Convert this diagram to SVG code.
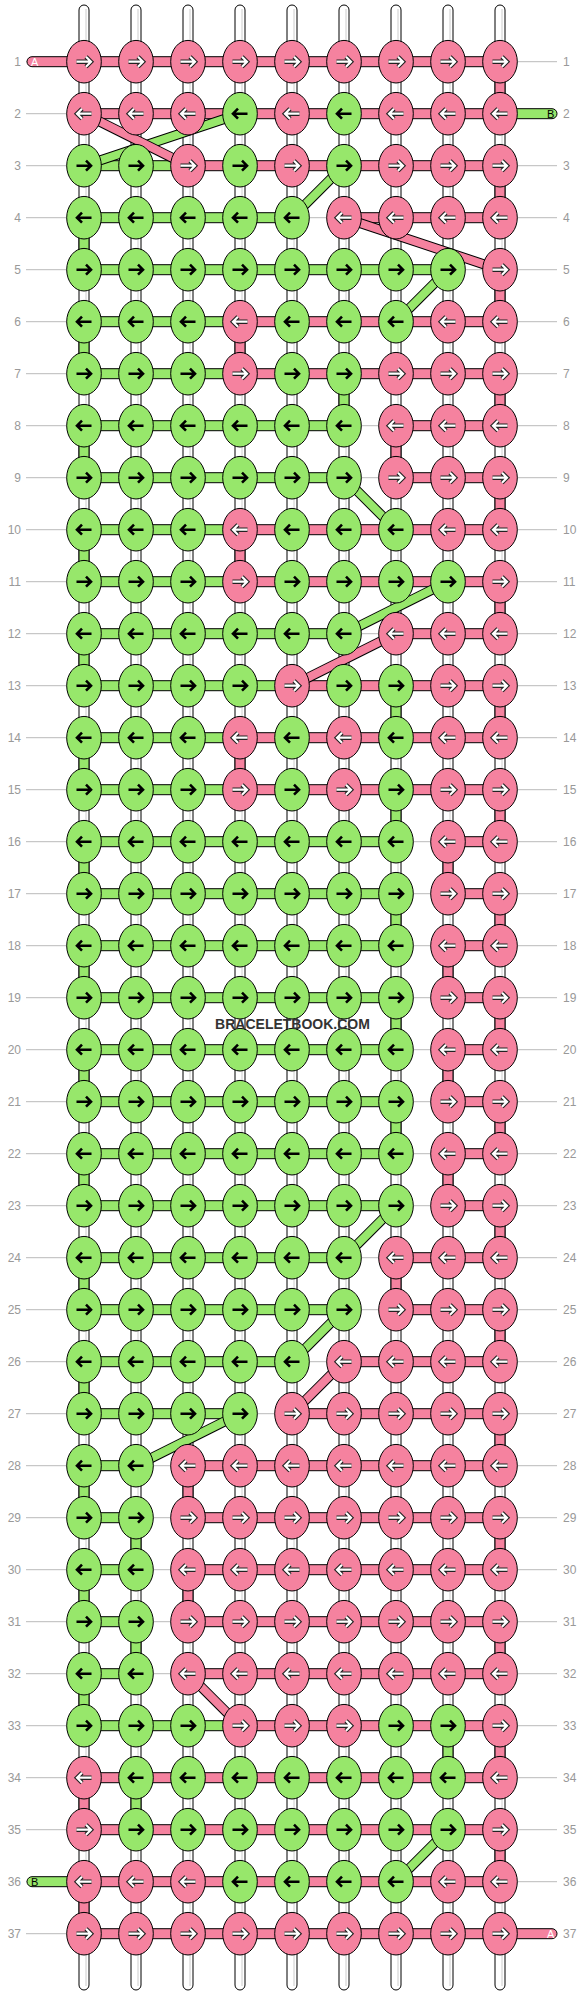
<svg xmlns="http://www.w3.org/2000/svg" width="584" height="1996" viewBox="0 0 584 1996">
<style>
.bg{fill:#fff}
.gl{stroke:#bbb;stroke-width:1}
.lb{font-family:"Liberation Sans",Arial,sans-serif;font-size:12px;fill:#999}
.w{fill:#fff;stroke:#000;stroke-width:1}
.wl{stroke:#ccc;stroke-width:1}
.P{fill:#f5829f;stroke:#000;stroke-width:1}
.G{fill:#97e76b;stroke:#000;stroke-width:1}
.dk{stroke:#000;stroke-width:10;fill:none}
.dP{stroke:#f5829f;stroke-width:8;fill:none}
.dG{stroke:#97e76b;stroke-width:8;fill:none}
.ao{fill:none;stroke:#222;stroke-width:4.4;stroke-linejoin:miter}
.aw{fill:none;stroke:#fff;stroke-width:2.2}
.ab{fill:none;stroke:#000;stroke-width:2.6}
.st{font-family:"Liberation Sans",Arial,sans-serif;font-size:11px}
.wm{font-family:"Liberation Sans",Arial,sans-serif;font-size:14px;font-weight:bold;fill:#333;text-anchor:middle}
</style>
<defs>
<g id="pR"><ellipse rx="17.3" ry="21.3" class="P"/><path d="M-7.5,0H6.5M2,-5L7,0L2,5" class="ao"/><path d="M-7.5,0H6.5M2,-5L7,0L2,5" class="aw"/></g>
<g id="pL"><ellipse rx="17.3" ry="21.3" class="P"/><path d="M7.5,0H-6.5M-2,-5L-7,0L-2,5" class="ao"/><path d="M7.5,0H-6.5M-2,-5L-7,0L-2,5" class="aw"/></g>
<g id="gR"><ellipse rx="17.3" ry="21.3" class="G"/><path d="M-7.5,0H6.5M2,-5L7,0L2,5" class="ab"/></g>
<g id="gL"><ellipse rx="17.3" ry="21.3" class="G"/><path d="M7.5,0H-6.5M-2,-5L-7,0L-2,5" class="ab"/></g>
</defs>
<rect class="bg" x="0" y="0" width="584" height="1996"/>
<g id="guides">
<line class="gl" x1="26" y1="61.7" x2="557" y2="61.7"/><line class="gl" x1="26" y1="113.7" x2="557" y2="113.7"/><line class="gl" x1="26" y1="165.7" x2="557" y2="165.7"/><line class="gl" x1="26" y1="217.7" x2="557" y2="217.7"/><line class="gl" x1="26" y1="269.7" x2="557" y2="269.7"/><line class="gl" x1="26" y1="321.7" x2="557" y2="321.7"/><line class="gl" x1="26" y1="373.7" x2="557" y2="373.7"/><line class="gl" x1="26" y1="425.7" x2="557" y2="425.7"/><line class="gl" x1="26" y1="477.7" x2="557" y2="477.7"/><line class="gl" x1="26" y1="529.7" x2="557" y2="529.7"/><line class="gl" x1="26" y1="581.7" x2="557" y2="581.7"/><line class="gl" x1="26" y1="633.7" x2="557" y2="633.7"/><line class="gl" x1="26" y1="685.7" x2="557" y2="685.7"/><line class="gl" x1="26" y1="737.7" x2="557" y2="737.7"/><line class="gl" x1="26" y1="789.7" x2="557" y2="789.7"/><line class="gl" x1="26" y1="841.7" x2="557" y2="841.7"/><line class="gl" x1="26" y1="893.7" x2="557" y2="893.7"/><line class="gl" x1="26" y1="945.7" x2="557" y2="945.7"/><line class="gl" x1="26" y1="997.7" x2="557" y2="997.7"/><line class="gl" x1="26" y1="1049.7" x2="557" y2="1049.7"/><line class="gl" x1="26" y1="1101.7" x2="557" y2="1101.7"/><line class="gl" x1="26" y1="1153.7" x2="557" y2="1153.7"/><line class="gl" x1="26" y1="1205.7" x2="557" y2="1205.7"/><line class="gl" x1="26" y1="1257.7" x2="557" y2="1257.7"/><line class="gl" x1="26" y1="1309.7" x2="557" y2="1309.7"/><line class="gl" x1="26" y1="1361.7" x2="557" y2="1361.7"/><line class="gl" x1="26" y1="1413.7" x2="557" y2="1413.7"/><line class="gl" x1="26" y1="1465.7" x2="557" y2="1465.7"/><line class="gl" x1="26" y1="1517.7" x2="557" y2="1517.7"/><line class="gl" x1="26" y1="1569.7" x2="557" y2="1569.7"/><line class="gl" x1="26" y1="1621.7" x2="557" y2="1621.7"/><line class="gl" x1="26" y1="1673.7" x2="557" y2="1673.7"/><line class="gl" x1="26" y1="1725.7" x2="557" y2="1725.7"/><line class="gl" x1="26" y1="1777.7" x2="557" y2="1777.7"/><line class="gl" x1="26" y1="1829.7" x2="557" y2="1829.7"/><line class="gl" x1="26" y1="1881.7" x2="557" y2="1881.7"/><line class="gl" x1="26" y1="1933.7" x2="557" y2="1933.7"/>
</g>
<g id="labels-left" class="lb" text-anchor="end">
<text x="21" y="66">1</text><text x="21" y="118">2</text><text x="21" y="170">3</text><text x="21" y="222">4</text><text x="21" y="274">5</text><text x="21" y="326">6</text><text x="21" y="378">7</text><text x="21" y="430">8</text><text x="21" y="482">9</text><text x="21" y="534">10</text><text x="21" y="586">11</text><text x="21" y="638">12</text><text x="21" y="690">13</text><text x="21" y="742">14</text><text x="21" y="794">15</text><text x="21" y="846">16</text><text x="21" y="898">17</text><text x="21" y="950">18</text><text x="21" y="1002">19</text><text x="21" y="1054">20</text><text x="21" y="1106">21</text><text x="21" y="1158">22</text><text x="21" y="1210">23</text><text x="21" y="1262">24</text><text x="21" y="1314">25</text><text x="21" y="1366">26</text><text x="21" y="1418">27</text><text x="21" y="1470">28</text><text x="21" y="1522">29</text><text x="21" y="1574">30</text><text x="21" y="1626">31</text><text x="21" y="1678">32</text><text x="21" y="1730">33</text><text x="21" y="1782">34</text><text x="21" y="1834">35</text><text x="21" y="1886">36</text><text x="21" y="1938">37</text>
</g>
<g id="labels-right" class="lb">
<text x="563" y="66">1</text><text x="563" y="118">2</text><text x="563" y="170">3</text><text x="563" y="222">4</text><text x="563" y="274">5</text><text x="563" y="326">6</text><text x="563" y="378">7</text><text x="563" y="430">8</text><text x="563" y="482">9</text><text x="563" y="534">10</text><text x="563" y="586">11</text><text x="563" y="638">12</text><text x="563" y="690">13</text><text x="563" y="742">14</text><text x="563" y="794">15</text><text x="563" y="846">16</text><text x="563" y="898">17</text><text x="563" y="950">18</text><text x="563" y="1002">19</text><text x="563" y="1054">20</text><text x="563" y="1106">21</text><text x="563" y="1158">22</text><text x="563" y="1210">23</text><text x="563" y="1262">24</text><text x="563" y="1314">25</text><text x="563" y="1366">26</text><text x="563" y="1418">27</text><text x="563" y="1470">28</text><text x="563" y="1522">29</text><text x="563" y="1574">30</text><text x="563" y="1626">31</text><text x="563" y="1678">32</text><text x="563" y="1730">33</text><text x="563" y="1782">34</text><text x="563" y="1834">35</text><text x="563" y="1886">36</text><text x="563" y="1938">37</text>
</g>
<g id="connectors">
<g id="warps">
<rect class="w" x="79" y="5" width="10" height="1985" rx="5"/><line class="wl" x1="86" y1="9" x2="86" y2="1986"/>
<rect class="w" x="131" y="5" width="10" height="1985" rx="5"/><line class="wl" x1="138" y1="9" x2="138" y2="1986"/>
<rect class="w" x="183" y="5" width="10" height="1985" rx="5"/><line class="wl" x1="190" y1="9" x2="190" y2="1986"/>
<rect class="w" x="235" y="5" width="10" height="1985" rx="5"/><line class="wl" x1="242" y1="9" x2="242" y2="1986"/>
<rect class="w" x="287" y="5" width="10" height="1985" rx="5"/><line class="wl" x1="294" y1="9" x2="294" y2="1986"/>
<rect class="w" x="339" y="5" width="10" height="1985" rx="5"/><line class="wl" x1="346" y1="9" x2="346" y2="1986"/>
<rect class="w" x="391" y="5" width="10" height="1985" rx="5"/><line class="wl" x1="398" y1="9" x2="398" y2="1986"/>
<rect class="w" x="443" y="5" width="10" height="1985" rx="5"/><line class="wl" x1="450" y1="9" x2="450" y2="1986"/>
<rect class="w" x="495" y="5" width="10" height="1985" rx="5"/><line class="wl" x1="502" y1="9" x2="502" y2="1986"/>
</g>
<g id="turns">
<rect class="P" x="495" y="61.7" width="10" height="52"/>
<rect class="P" x="495" y="165.7" width="10" height="52"/>
<rect class="G" x="79" y="217.7" width="10" height="52"/>
<rect class="P" x="495" y="269.7" width="10" height="52"/>
<rect class="G" x="79" y="321.7" width="10" height="52"/><rect class="P" x="235" y="321.7" width="10" height="52"/>
<rect class="G" x="339" y="373.7" width="10" height="52"/><rect class="P" x="495" y="373.7" width="10" height="52"/>
<rect class="G" x="79" y="425.7" width="10" height="52"/><rect class="P" x="391" y="425.7" width="10" height="52"/>
<rect class="P" x="495" y="477.7" width="10" height="52"/>
<rect class="G" x="79" y="529.7" width="10" height="52"/><rect class="P" x="235" y="529.7" width="10" height="52"/>
<rect class="P" x="495" y="581.7" width="10" height="52"/>
<rect class="G" x="79" y="633.7" width="10" height="52"/>
<rect class="G" x="391" y="685.7" width="10" height="52"/><rect class="P" x="495" y="685.7" width="10" height="52"/>
<rect class="G" x="79" y="737.7" width="10" height="52"/><rect class="P" x="235" y="737.7" width="10" height="52"/>
<rect class="G" x="391" y="789.7" width="10" height="52"/><rect class="P" x="495" y="789.7" width="10" height="52"/>
<rect class="G" x="79" y="841.7" width="10" height="52"/><rect class="P" x="443" y="841.7" width="10" height="52"/>
<rect class="G" x="391" y="893.7" width="10" height="52"/><rect class="P" x="495" y="893.7" width="10" height="52"/>
<rect class="G" x="79" y="945.7" width="10" height="52"/><rect class="P" x="443" y="945.7" width="10" height="52"/>
<rect class="G" x="391" y="997.7" width="10" height="52"/><rect class="P" x="495" y="997.7" width="10" height="52"/>
<rect class="G" x="79" y="1049.7" width="10" height="52"/><rect class="P" x="443" y="1049.7" width="10" height="52"/>
<rect class="G" x="391" y="1101.7" width="10" height="52"/><rect class="P" x="495" y="1101.7" width="10" height="52"/>
<rect class="G" x="79" y="1153.7" width="10" height="52"/><rect class="P" x="443" y="1153.7" width="10" height="52"/>
<rect class="P" x="495" y="1205.7" width="10" height="52"/>
<rect class="G" x="79" y="1257.7" width="10" height="52"/><rect class="P" x="391" y="1257.7" width="10" height="52"/>
<rect class="P" x="495" y="1309.7" width="10" height="52"/>
<rect class="G" x="79" y="1361.7" width="10" height="52"/>
<rect class="P" x="495" y="1413.7" width="10" height="52"/>
<rect class="G" x="79" y="1465.7" width="10" height="52"/><rect class="P" x="183" y="1465.7" width="10" height="52"/>
<rect class="G" x="131" y="1517.7" width="10" height="52"/><rect class="P" x="495" y="1517.7" width="10" height="52"/>
<rect class="G" x="79" y="1569.7" width="10" height="52"/><rect class="P" x="183" y="1569.7" width="10" height="52"/>
<rect class="G" x="131" y="1621.7" width="10" height="52"/><rect class="P" x="495" y="1621.7" width="10" height="52"/>
<rect class="G" x="79" y="1673.7" width="10" height="52"/>
<rect class="G" x="443" y="1725.7" width="10" height="52"/><rect class="P" x="495" y="1725.7" width="10" height="52"/>
<rect class="P" x="79" y="1777.7" width="10" height="52"/><rect class="G" x="131" y="1777.7" width="10" height="52"/>
<rect class="P" x="495" y="1829.7" width="10" height="52"/>
<rect class="P" x="79" y="1881.7" width="10" height="52"/>
</g>
<g id="rows">
<rect class="P" x="84" y="56.7" width="416" height="10"/>
<rect class="P" x="84" y="108.7" width="416" height="10"/>
<rect class="G" x="84" y="160.7" width="104" height="10"/><rect class="P" x="188" y="160.7" width="312" height="10"/>
<rect class="G" x="84" y="212.7" width="208" height="10"/><rect class="P" x="344" y="212.7" width="156" height="10"/>
<rect class="G" x="84" y="264.7" width="364" height="10"/>
<rect class="G" x="84" y="316.7" width="156" height="10"/><rect class="P" x="240" y="316.7" width="260" height="10"/>
<rect class="G" x="84" y="368.7" width="156" height="10"/><rect class="P" x="240" y="368.7" width="260" height="10"/>
<rect class="G" x="84" y="420.7" width="260" height="10"/><rect class="P" x="396" y="420.7" width="104" height="10"/>
<rect class="G" x="84" y="472.7" width="260" height="10"/><rect class="P" x="396" y="472.7" width="104" height="10"/>
<rect class="G" x="84" y="524.7" width="156" height="10"/><rect class="P" x="240" y="524.7" width="260" height="10"/>
<rect class="G" x="84" y="576.7" width="156" height="10"/><rect class="P" x="240" y="576.7" width="260" height="10"/>
<rect class="G" x="84" y="628.7" width="260" height="10"/><rect class="P" x="396" y="628.7" width="104" height="10"/>
<rect class="G" x="84" y="680.7" width="208" height="10"/><rect class="P" x="292" y="680.7" width="208" height="10"/>
<rect class="G" x="84" y="732.7" width="156" height="10"/><rect class="P" x="240" y="732.7" width="260" height="10"/>
<rect class="G" x="84" y="784.7" width="156" height="10"/><rect class="P" x="240" y="784.7" width="260" height="10"/>
<rect class="G" x="84" y="836.7" width="312" height="10"/><rect class="P" x="448" y="836.7" width="52" height="10"/>
<rect class="G" x="84" y="888.7" width="312" height="10"/><rect class="P" x="448" y="888.7" width="52" height="10"/>
<rect class="G" x="84" y="940.7" width="312" height="10"/><rect class="P" x="448" y="940.7" width="52" height="10"/>
<rect class="G" x="84" y="992.7" width="312" height="10"/><rect class="P" x="448" y="992.7" width="52" height="10"/>
<rect class="G" x="84" y="1044.7" width="312" height="10"/><rect class="P" x="448" y="1044.7" width="52" height="10"/>
<rect class="G" x="84" y="1096.7" width="312" height="10"/><rect class="P" x="448" y="1096.7" width="52" height="10"/>
<rect class="G" x="84" y="1148.7" width="312" height="10"/><rect class="P" x="448" y="1148.7" width="52" height="10"/>
<rect class="G" x="84" y="1200.7" width="312" height="10"/><rect class="P" x="448" y="1200.7" width="52" height="10"/>
<rect class="G" x="84" y="1252.7" width="260" height="10"/><rect class="P" x="396" y="1252.7" width="104" height="10"/>
<rect class="G" x="84" y="1304.7" width="260" height="10"/><rect class="P" x="396" y="1304.7" width="104" height="10"/>
<rect class="G" x="84" y="1356.7" width="208" height="10"/><rect class="P" x="344" y="1356.7" width="156" height="10"/>
<rect class="G" x="84" y="1408.7" width="156" height="10"/><rect class="P" x="292" y="1408.7" width="208" height="10"/>
<rect class="G" x="84" y="1460.7" width="52" height="10"/><rect class="P" x="188" y="1460.7" width="312" height="10"/>
<rect class="G" x="84" y="1512.7" width="52" height="10"/><rect class="P" x="188" y="1512.7" width="312" height="10"/>
<rect class="G" x="84" y="1564.7" width="52" height="10"/><rect class="P" x="188" y="1564.7" width="312" height="10"/>
<rect class="G" x="84" y="1616.7" width="52" height="10"/><rect class="P" x="188" y="1616.7" width="312" height="10"/>
<rect class="G" x="84" y="1668.7" width="52" height="10"/><rect class="P" x="188" y="1668.7" width="312" height="10"/>
<rect class="G" x="84" y="1720.7" width="156" height="10"/><rect class="P" x="240" y="1720.7" width="260" height="10"/>
<rect class="P" x="84" y="1772.7" width="416" height="10"/>
<rect class="P" x="84" y="1824.7" width="416" height="10"/>
<rect class="P" x="84" y="1876.7" width="416" height="10"/>
<rect class="P" x="84" y="1928.7" width="416" height="10"/>
</g>
<g id="ends">
<rect class="P" x="27" y="56.7" width="62" height="10" rx="5"/><text class="st" x="31" y="66" fill="#fff">A</text>
<rect class="G" x="495" y="108.7" width="62" height="10" rx="5"/><text class="st" x="547" y="118" fill="#000">B</text>
<rect class="G" x="27" y="1876.7" width="62" height="10" rx="5"/><text class="st" x="31" y="1886" fill="#000">B</text>
<rect class="P" x="495" y="1928.7" width="62" height="10" rx="5"/><text class="st" x="547" y="1938" fill="#fff">A</text>
</g>
<g id="crossings">
<line class="dk" x1="240" y1="113.7" x2="84" y2="165.7"/><line class="dG" x1="240" y1="113.7" x2="84" y2="165.7"/>
<line class="dk" x1="84" y1="113.7" x2="188" y2="165.7"/><line class="dP" x1="84" y1="113.7" x2="188" y2="165.7"/>
<line class="dk" x1="344" y1="165.7" x2="292" y2="217.7"/><line class="dG" x1="344" y1="165.7" x2="292" y2="217.7"/>
<line class="dk" x1="344" y1="217.7" x2="500" y2="269.7"/><line class="dP" x1="344" y1="217.7" x2="500" y2="269.7"/>
<line class="dk" x1="448" y1="269.7" x2="396" y2="321.7"/><line class="dG" x1="448" y1="269.7" x2="396" y2="321.7"/>
<line class="dk" x1="344" y1="477.7" x2="396" y2="529.7"/><line class="dG" x1="344" y1="477.7" x2="396" y2="529.7"/>
<line class="dk" x1="448" y1="581.7" x2="344" y2="633.7"/><line class="dG" x1="448" y1="581.7" x2="344" y2="633.7"/>
<line class="dk" x1="396" y1="633.7" x2="292" y2="685.7"/><line class="dP" x1="396" y1="633.7" x2="292" y2="685.7"/>
<line class="dk" x1="396" y1="1205.7" x2="344" y2="1257.7"/><line class="dG" x1="396" y1="1205.7" x2="344" y2="1257.7"/>
<line class="dk" x1="344" y1="1309.7" x2="292" y2="1361.7"/><line class="dG" x1="344" y1="1309.7" x2="292" y2="1361.7"/>
<line class="dk" x1="344" y1="1361.7" x2="292" y2="1413.7"/><line class="dP" x1="344" y1="1361.7" x2="292" y2="1413.7"/>
<line class="dk" x1="240" y1="1413.7" x2="136" y2="1465.7"/><line class="dG" x1="240" y1="1413.7" x2="136" y2="1465.7"/>
<line class="dk" x1="188" y1="1673.7" x2="240" y2="1725.7"/><line class="dP" x1="188" y1="1673.7" x2="240" y2="1725.7"/>
<line class="dk" x1="448" y1="1829.7" x2="396" y2="1881.7"/><line class="dG" x1="448" y1="1829.7" x2="396" y2="1881.7"/>
</g>
</g>
<g id="knots">
<g id="k1-1"><use href="#pR" x="84" y="61.7"/></g><g id="k1-2"><use href="#pR" x="136" y="61.7"/></g><g id="k1-3"><use href="#pR" x="188" y="61.7"/></g><g id="k1-4"><use href="#pR" x="240" y="61.7"/></g><g id="k1-5"><use href="#pR" x="292" y="61.7"/></g><g id="k1-6"><use href="#pR" x="344" y="61.7"/></g><g id="k1-7"><use href="#pR" x="396" y="61.7"/></g><g id="k1-8"><use href="#pR" x="448" y="61.7"/></g><g id="k1-9"><use href="#pR" x="500" y="61.7"/></g>
<g id="k2-1"><use href="#pL" x="84" y="113.7"/></g><g id="k2-2"><use href="#pL" x="136" y="113.7"/></g><g id="k2-3"><use href="#pL" x="188" y="113.7"/></g><g id="k2-4"><use href="#gL" x="240" y="113.7"/></g><g id="k2-5"><use href="#pL" x="292" y="113.7"/></g><g id="k2-6"><use href="#gL" x="344" y="113.7"/></g><g id="k2-7"><use href="#pL" x="396" y="113.7"/></g><g id="k2-8"><use href="#pL" x="448" y="113.7"/></g><g id="k2-9"><use href="#pL" x="500" y="113.7"/></g>
<g id="k3-1"><use href="#gR" x="84" y="165.7"/></g><g id="k3-2"><use href="#gR" x="136" y="165.7"/></g><g id="k3-3"><use href="#pR" x="188" y="165.7"/></g><g id="k3-4"><use href="#gR" x="240" y="165.7"/></g><g id="k3-5"><use href="#pR" x="292" y="165.7"/></g><g id="k3-6"><use href="#gR" x="344" y="165.7"/></g><g id="k3-7"><use href="#pR" x="396" y="165.7"/></g><g id="k3-8"><use href="#pR" x="448" y="165.7"/></g><g id="k3-9"><use href="#pR" x="500" y="165.7"/></g>
<g id="k4-1"><use href="#gL" x="84" y="217.7"/></g><g id="k4-2"><use href="#gL" x="136" y="217.7"/></g><g id="k4-3"><use href="#gL" x="188" y="217.7"/></g><g id="k4-4"><use href="#gL" x="240" y="217.7"/></g><g id="k4-5"><use href="#gL" x="292" y="217.7"/></g><g id="k4-6"><use href="#pL" x="344" y="217.7"/></g><g id="k4-7"><use href="#pL" x="396" y="217.7"/></g><g id="k4-8"><use href="#pL" x="448" y="217.7"/></g><g id="k4-9"><use href="#pL" x="500" y="217.7"/></g>
<g id="k5-1"><use href="#gR" x="84" y="269.7"/></g><g id="k5-2"><use href="#gR" x="136" y="269.7"/></g><g id="k5-3"><use href="#gR" x="188" y="269.7"/></g><g id="k5-4"><use href="#gR" x="240" y="269.7"/></g><g id="k5-5"><use href="#gR" x="292" y="269.7"/></g><g id="k5-6"><use href="#gR" x="344" y="269.7"/></g><g id="k5-7"><use href="#gR" x="396" y="269.7"/></g><g id="k5-8"><use href="#gR" x="448" y="269.7"/></g><g id="k5-9"><use href="#pR" x="500" y="269.7"/></g>
<g id="k6-1"><use href="#gL" x="84" y="321.7"/></g><g id="k6-2"><use href="#gL" x="136" y="321.7"/></g><g id="k6-3"><use href="#gL" x="188" y="321.7"/></g><g id="k6-4"><use href="#pL" x="240" y="321.7"/></g><g id="k6-5"><use href="#gL" x="292" y="321.7"/></g><g id="k6-6"><use href="#gL" x="344" y="321.7"/></g><g id="k6-7"><use href="#gL" x="396" y="321.7"/></g><g id="k6-8"><use href="#pL" x="448" y="321.7"/></g><g id="k6-9"><use href="#pL" x="500" y="321.7"/></g>
<g id="k7-1"><use href="#gR" x="84" y="373.7"/></g><g id="k7-2"><use href="#gR" x="136" y="373.7"/></g><g id="k7-3"><use href="#gR" x="188" y="373.7"/></g><g id="k7-4"><use href="#pR" x="240" y="373.7"/></g><g id="k7-5"><use href="#gR" x="292" y="373.7"/></g><g id="k7-6"><use href="#gR" x="344" y="373.7"/></g><g id="k7-7"><use href="#pR" x="396" y="373.7"/></g><g id="k7-8"><use href="#pR" x="448" y="373.7"/></g><g id="k7-9"><use href="#pR" x="500" y="373.7"/></g>
<g id="k8-1"><use href="#gL" x="84" y="425.7"/></g><g id="k8-2"><use href="#gL" x="136" y="425.7"/></g><g id="k8-3"><use href="#gL" x="188" y="425.7"/></g><g id="k8-4"><use href="#gL" x="240" y="425.7"/></g><g id="k8-5"><use href="#gL" x="292" y="425.7"/></g><g id="k8-6"><use href="#gL" x="344" y="425.7"/></g><g id="k8-7"><use href="#pL" x="396" y="425.7"/></g><g id="k8-8"><use href="#pL" x="448" y="425.7"/></g><g id="k8-9"><use href="#pL" x="500" y="425.7"/></g>
<g id="k9-1"><use href="#gR" x="84" y="477.7"/></g><g id="k9-2"><use href="#gR" x="136" y="477.7"/></g><g id="k9-3"><use href="#gR" x="188" y="477.7"/></g><g id="k9-4"><use href="#gR" x="240" y="477.7"/></g><g id="k9-5"><use href="#gR" x="292" y="477.7"/></g><g id="k9-6"><use href="#gR" x="344" y="477.7"/></g><g id="k9-7"><use href="#pR" x="396" y="477.7"/></g><g id="k9-8"><use href="#pR" x="448" y="477.7"/></g><g id="k9-9"><use href="#pR" x="500" y="477.7"/></g>
<g id="k10-1"><use href="#gL" x="84" y="529.7"/></g><g id="k10-2"><use href="#gL" x="136" y="529.7"/></g><g id="k10-3"><use href="#gL" x="188" y="529.7"/></g><g id="k10-4"><use href="#pL" x="240" y="529.7"/></g><g id="k10-5"><use href="#gL" x="292" y="529.7"/></g><g id="k10-6"><use href="#gL" x="344" y="529.7"/></g><g id="k10-7"><use href="#gL" x="396" y="529.7"/></g><g id="k10-8"><use href="#pL" x="448" y="529.7"/></g><g id="k10-9"><use href="#pL" x="500" y="529.7"/></g>
<g id="k11-1"><use href="#gR" x="84" y="581.7"/></g><g id="k11-2"><use href="#gR" x="136" y="581.7"/></g><g id="k11-3"><use href="#gR" x="188" y="581.7"/></g><g id="k11-4"><use href="#pR" x="240" y="581.7"/></g><g id="k11-5"><use href="#gR" x="292" y="581.7"/></g><g id="k11-6"><use href="#gR" x="344" y="581.7"/></g><g id="k11-7"><use href="#gR" x="396" y="581.7"/></g><g id="k11-8"><use href="#gR" x="448" y="581.7"/></g><g id="k11-9"><use href="#pR" x="500" y="581.7"/></g>
<g id="k12-1"><use href="#gL" x="84" y="633.7"/></g><g id="k12-2"><use href="#gL" x="136" y="633.7"/></g><g id="k12-3"><use href="#gL" x="188" y="633.7"/></g><g id="k12-4"><use href="#gL" x="240" y="633.7"/></g><g id="k12-5"><use href="#gL" x="292" y="633.7"/></g><g id="k12-6"><use href="#gL" x="344" y="633.7"/></g><g id="k12-7"><use href="#pL" x="396" y="633.7"/></g><g id="k12-8"><use href="#pL" x="448" y="633.7"/></g><g id="k12-9"><use href="#pL" x="500" y="633.7"/></g>
<g id="k13-1"><use href="#gR" x="84" y="685.7"/></g><g id="k13-2"><use href="#gR" x="136" y="685.7"/></g><g id="k13-3"><use href="#gR" x="188" y="685.7"/></g><g id="k13-4"><use href="#gR" x="240" y="685.7"/></g><g id="k13-5"><use href="#pR" x="292" y="685.7"/></g><g id="k13-6"><use href="#gR" x="344" y="685.7"/></g><g id="k13-7"><use href="#gR" x="396" y="685.7"/></g><g id="k13-8"><use href="#pR" x="448" y="685.7"/></g><g id="k13-9"><use href="#pR" x="500" y="685.7"/></g>
<g id="k14-1"><use href="#gL" x="84" y="737.7"/></g><g id="k14-2"><use href="#gL" x="136" y="737.7"/></g><g id="k14-3"><use href="#gL" x="188" y="737.7"/></g><g id="k14-4"><use href="#pL" x="240" y="737.7"/></g><g id="k14-5"><use href="#gL" x="292" y="737.7"/></g><g id="k14-6"><use href="#pL" x="344" y="737.7"/></g><g id="k14-7"><use href="#gL" x="396" y="737.7"/></g><g id="k14-8"><use href="#pL" x="448" y="737.7"/></g><g id="k14-9"><use href="#pL" x="500" y="737.7"/></g>
<g id="k15-1"><use href="#gR" x="84" y="789.7"/></g><g id="k15-2"><use href="#gR" x="136" y="789.7"/></g><g id="k15-3"><use href="#gR" x="188" y="789.7"/></g><g id="k15-4"><use href="#pR" x="240" y="789.7"/></g><g id="k15-5"><use href="#gR" x="292" y="789.7"/></g><g id="k15-6"><use href="#pR" x="344" y="789.7"/></g><g id="k15-7"><use href="#gR" x="396" y="789.7"/></g><g id="k15-8"><use href="#pR" x="448" y="789.7"/></g><g id="k15-9"><use href="#pR" x="500" y="789.7"/></g>
<g id="k16-1"><use href="#gL" x="84" y="841.7"/></g><g id="k16-2"><use href="#gL" x="136" y="841.7"/></g><g id="k16-3"><use href="#gL" x="188" y="841.7"/></g><g id="k16-4"><use href="#gL" x="240" y="841.7"/></g><g id="k16-5"><use href="#gL" x="292" y="841.7"/></g><g id="k16-6"><use href="#gL" x="344" y="841.7"/></g><g id="k16-7"><use href="#gL" x="396" y="841.7"/></g><g id="k16-8"><use href="#pL" x="448" y="841.7"/></g><g id="k16-9"><use href="#pL" x="500" y="841.7"/></g>
<g id="k17-1"><use href="#gR" x="84" y="893.7"/></g><g id="k17-2"><use href="#gR" x="136" y="893.7"/></g><g id="k17-3"><use href="#gR" x="188" y="893.7"/></g><g id="k17-4"><use href="#gR" x="240" y="893.7"/></g><g id="k17-5"><use href="#gR" x="292" y="893.7"/></g><g id="k17-6"><use href="#gR" x="344" y="893.7"/></g><g id="k17-7"><use href="#gR" x="396" y="893.7"/></g><g id="k17-8"><use href="#pR" x="448" y="893.7"/></g><g id="k17-9"><use href="#pR" x="500" y="893.7"/></g>
<g id="k18-1"><use href="#gL" x="84" y="945.7"/></g><g id="k18-2"><use href="#gL" x="136" y="945.7"/></g><g id="k18-3"><use href="#gL" x="188" y="945.7"/></g><g id="k18-4"><use href="#gL" x="240" y="945.7"/></g><g id="k18-5"><use href="#gL" x="292" y="945.7"/></g><g id="k18-6"><use href="#gL" x="344" y="945.7"/></g><g id="k18-7"><use href="#gL" x="396" y="945.7"/></g><g id="k18-8"><use href="#pL" x="448" y="945.7"/></g><g id="k18-9"><use href="#pL" x="500" y="945.7"/></g>
<g id="k19-1"><use href="#gR" x="84" y="997.7"/></g><g id="k19-2"><use href="#gR" x="136" y="997.7"/></g><g id="k19-3"><use href="#gR" x="188" y="997.7"/></g><g id="k19-4"><use href="#gR" x="240" y="997.7"/></g><g id="k19-5"><use href="#gR" x="292" y="997.7"/></g><g id="k19-6"><use href="#gR" x="344" y="997.7"/></g><g id="k19-7"><use href="#gR" x="396" y="997.7"/></g><g id="k19-8"><use href="#pR" x="448" y="997.7"/></g><g id="k19-9"><use href="#pR" x="500" y="997.7"/></g>
<g id="k20-1"><use href="#gL" x="84" y="1049.7"/></g><g id="k20-2"><use href="#gL" x="136" y="1049.7"/></g><g id="k20-3"><use href="#gL" x="188" y="1049.7"/></g><g id="k20-4"><use href="#gL" x="240" y="1049.7"/></g><g id="k20-5"><use href="#gL" x="292" y="1049.7"/></g><g id="k20-6"><use href="#gL" x="344" y="1049.7"/></g><g id="k20-7"><use href="#gL" x="396" y="1049.7"/></g><g id="k20-8"><use href="#pL" x="448" y="1049.7"/></g><g id="k20-9"><use href="#pL" x="500" y="1049.7"/></g>
<g id="k21-1"><use href="#gR" x="84" y="1101.7"/></g><g id="k21-2"><use href="#gR" x="136" y="1101.7"/></g><g id="k21-3"><use href="#gR" x="188" y="1101.7"/></g><g id="k21-4"><use href="#gR" x="240" y="1101.7"/></g><g id="k21-5"><use href="#gR" x="292" y="1101.7"/></g><g id="k21-6"><use href="#gR" x="344" y="1101.7"/></g><g id="k21-7"><use href="#gR" x="396" y="1101.7"/></g><g id="k21-8"><use href="#pR" x="448" y="1101.7"/></g><g id="k21-9"><use href="#pR" x="500" y="1101.7"/></g>
<g id="k22-1"><use href="#gL" x="84" y="1153.7"/></g><g id="k22-2"><use href="#gL" x="136" y="1153.7"/></g><g id="k22-3"><use href="#gL" x="188" y="1153.7"/></g><g id="k22-4"><use href="#gL" x="240" y="1153.7"/></g><g id="k22-5"><use href="#gL" x="292" y="1153.7"/></g><g id="k22-6"><use href="#gL" x="344" y="1153.7"/></g><g id="k22-7"><use href="#gL" x="396" y="1153.7"/></g><g id="k22-8"><use href="#pL" x="448" y="1153.7"/></g><g id="k22-9"><use href="#pL" x="500" y="1153.7"/></g>
<g id="k23-1"><use href="#gR" x="84" y="1205.7"/></g><g id="k23-2"><use href="#gR" x="136" y="1205.7"/></g><g id="k23-3"><use href="#gR" x="188" y="1205.7"/></g><g id="k23-4"><use href="#gR" x="240" y="1205.7"/></g><g id="k23-5"><use href="#gR" x="292" y="1205.7"/></g><g id="k23-6"><use href="#gR" x="344" y="1205.7"/></g><g id="k23-7"><use href="#gR" x="396" y="1205.7"/></g><g id="k23-8"><use href="#pR" x="448" y="1205.7"/></g><g id="k23-9"><use href="#pR" x="500" y="1205.7"/></g>
<g id="k24-1"><use href="#gL" x="84" y="1257.7"/></g><g id="k24-2"><use href="#gL" x="136" y="1257.7"/></g><g id="k24-3"><use href="#gL" x="188" y="1257.7"/></g><g id="k24-4"><use href="#gL" x="240" y="1257.7"/></g><g id="k24-5"><use href="#gL" x="292" y="1257.7"/></g><g id="k24-6"><use href="#gL" x="344" y="1257.7"/></g><g id="k24-7"><use href="#pL" x="396" y="1257.7"/></g><g id="k24-8"><use href="#pL" x="448" y="1257.7"/></g><g id="k24-9"><use href="#pL" x="500" y="1257.7"/></g>
<g id="k25-1"><use href="#gR" x="84" y="1309.7"/></g><g id="k25-2"><use href="#gR" x="136" y="1309.7"/></g><g id="k25-3"><use href="#gR" x="188" y="1309.7"/></g><g id="k25-4"><use href="#gR" x="240" y="1309.7"/></g><g id="k25-5"><use href="#gR" x="292" y="1309.7"/></g><g id="k25-6"><use href="#gR" x="344" y="1309.7"/></g><g id="k25-7"><use href="#pR" x="396" y="1309.7"/></g><g id="k25-8"><use href="#pR" x="448" y="1309.7"/></g><g id="k25-9"><use href="#pR" x="500" y="1309.7"/></g>
<g id="k26-1"><use href="#gL" x="84" y="1361.7"/></g><g id="k26-2"><use href="#gL" x="136" y="1361.7"/></g><g id="k26-3"><use href="#gL" x="188" y="1361.7"/></g><g id="k26-4"><use href="#gL" x="240" y="1361.7"/></g><g id="k26-5"><use href="#gL" x="292" y="1361.7"/></g><g id="k26-6"><use href="#pL" x="344" y="1361.7"/></g><g id="k26-7"><use href="#pL" x="396" y="1361.7"/></g><g id="k26-8"><use href="#pL" x="448" y="1361.7"/></g><g id="k26-9"><use href="#pL" x="500" y="1361.7"/></g>
<g id="k27-1"><use href="#gR" x="84" y="1413.7"/></g><g id="k27-2"><use href="#gR" x="136" y="1413.7"/></g><g id="k27-3"><use href="#gR" x="188" y="1413.7"/></g><g id="k27-4"><use href="#gR" x="240" y="1413.7"/></g><g id="k27-5"><use href="#pR" x="292" y="1413.7"/></g><g id="k27-6"><use href="#pR" x="344" y="1413.7"/></g><g id="k27-7"><use href="#pR" x="396" y="1413.7"/></g><g id="k27-8"><use href="#pR" x="448" y="1413.7"/></g><g id="k27-9"><use href="#pR" x="500" y="1413.7"/></g>
<g id="k28-1"><use href="#gL" x="84" y="1465.7"/></g><g id="k28-2"><use href="#gL" x="136" y="1465.7"/></g><g id="k28-3"><use href="#pL" x="188" y="1465.7"/></g><g id="k28-4"><use href="#pL" x="240" y="1465.7"/></g><g id="k28-5"><use href="#pL" x="292" y="1465.7"/></g><g id="k28-6"><use href="#pL" x="344" y="1465.7"/></g><g id="k28-7"><use href="#pL" x="396" y="1465.7"/></g><g id="k28-8"><use href="#pL" x="448" y="1465.7"/></g><g id="k28-9"><use href="#pL" x="500" y="1465.7"/></g>
<g id="k29-1"><use href="#gR" x="84" y="1517.7"/></g><g id="k29-2"><use href="#gR" x="136" y="1517.7"/></g><g id="k29-3"><use href="#pR" x="188" y="1517.7"/></g><g id="k29-4"><use href="#pR" x="240" y="1517.7"/></g><g id="k29-5"><use href="#pR" x="292" y="1517.7"/></g><g id="k29-6"><use href="#pR" x="344" y="1517.7"/></g><g id="k29-7"><use href="#pR" x="396" y="1517.7"/></g><g id="k29-8"><use href="#pR" x="448" y="1517.7"/></g><g id="k29-9"><use href="#pR" x="500" y="1517.7"/></g>
<g id="k30-1"><use href="#gL" x="84" y="1569.7"/></g><g id="k30-2"><use href="#gL" x="136" y="1569.7"/></g><g id="k30-3"><use href="#pL" x="188" y="1569.7"/></g><g id="k30-4"><use href="#pL" x="240" y="1569.7"/></g><g id="k30-5"><use href="#pL" x="292" y="1569.7"/></g><g id="k30-6"><use href="#pL" x="344" y="1569.7"/></g><g id="k30-7"><use href="#pL" x="396" y="1569.7"/></g><g id="k30-8"><use href="#pL" x="448" y="1569.7"/></g><g id="k30-9"><use href="#pL" x="500" y="1569.7"/></g>
<g id="k31-1"><use href="#gR" x="84" y="1621.7"/></g><g id="k31-2"><use href="#gR" x="136" y="1621.7"/></g><g id="k31-3"><use href="#pR" x="188" y="1621.7"/></g><g id="k31-4"><use href="#pR" x="240" y="1621.7"/></g><g id="k31-5"><use href="#pR" x="292" y="1621.7"/></g><g id="k31-6"><use href="#pR" x="344" y="1621.7"/></g><g id="k31-7"><use href="#pR" x="396" y="1621.7"/></g><g id="k31-8"><use href="#pR" x="448" y="1621.7"/></g><g id="k31-9"><use href="#pR" x="500" y="1621.7"/></g>
<g id="k32-1"><use href="#gL" x="84" y="1673.7"/></g><g id="k32-2"><use href="#gL" x="136" y="1673.7"/></g><g id="k32-3"><use href="#pL" x="188" y="1673.7"/></g><g id="k32-4"><use href="#pL" x="240" y="1673.7"/></g><g id="k32-5"><use href="#pL" x="292" y="1673.7"/></g><g id="k32-6"><use href="#pL" x="344" y="1673.7"/></g><g id="k32-7"><use href="#pL" x="396" y="1673.7"/></g><g id="k32-8"><use href="#pL" x="448" y="1673.7"/></g><g id="k32-9"><use href="#pL" x="500" y="1673.7"/></g>
<g id="k33-1"><use href="#gR" x="84" y="1725.7"/></g><g id="k33-2"><use href="#gR" x="136" y="1725.7"/></g><g id="k33-3"><use href="#gR" x="188" y="1725.7"/></g><g id="k33-4"><use href="#pR" x="240" y="1725.7"/></g><g id="k33-5"><use href="#pR" x="292" y="1725.7"/></g><g id="k33-6"><use href="#pR" x="344" y="1725.7"/></g><g id="k33-7"><use href="#gR" x="396" y="1725.7"/></g><g id="k33-8"><use href="#gR" x="448" y="1725.7"/></g><g id="k33-9"><use href="#pR" x="500" y="1725.7"/></g>
<g id="k34-1"><use href="#pL" x="84" y="1777.7"/></g><g id="k34-2"><use href="#gL" x="136" y="1777.7"/></g><g id="k34-3"><use href="#gL" x="188" y="1777.7"/></g><g id="k34-4"><use href="#gL" x="240" y="1777.7"/></g><g id="k34-5"><use href="#gL" x="292" y="1777.7"/></g><g id="k34-6"><use href="#gL" x="344" y="1777.7"/></g><g id="k34-7"><use href="#gL" x="396" y="1777.7"/></g><g id="k34-8"><use href="#gL" x="448" y="1777.7"/></g><g id="k34-9"><use href="#pL" x="500" y="1777.7"/></g>
<g id="k35-1"><use href="#pR" x="84" y="1829.7"/></g><g id="k35-2"><use href="#gR" x="136" y="1829.7"/></g><g id="k35-3"><use href="#gR" x="188" y="1829.7"/></g><g id="k35-4"><use href="#gR" x="240" y="1829.7"/></g><g id="k35-5"><use href="#gR" x="292" y="1829.7"/></g><g id="k35-6"><use href="#gR" x="344" y="1829.7"/></g><g id="k35-7"><use href="#gR" x="396" y="1829.7"/></g><g id="k35-8"><use href="#gR" x="448" y="1829.7"/></g><g id="k35-9"><use href="#pR" x="500" y="1829.7"/></g>
<g id="k36-1"><use href="#pL" x="84" y="1881.7"/></g><g id="k36-2"><use href="#pL" x="136" y="1881.7"/></g><g id="k36-3"><use href="#pL" x="188" y="1881.7"/></g><g id="k36-4"><use href="#gL" x="240" y="1881.7"/></g><g id="k36-5"><use href="#gL" x="292" y="1881.7"/></g><g id="k36-6"><use href="#gL" x="344" y="1881.7"/></g><g id="k36-7"><use href="#gL" x="396" y="1881.7"/></g><g id="k36-8"><use href="#pL" x="448" y="1881.7"/></g><g id="k36-9"><use href="#pL" x="500" y="1881.7"/></g>
<g id="k37-1"><use href="#pR" x="84" y="1933.7"/></g><g id="k37-2"><use href="#pR" x="136" y="1933.7"/></g><g id="k37-3"><use href="#pR" x="188" y="1933.7"/></g><g id="k37-4"><use href="#pR" x="240" y="1933.7"/></g><g id="k37-5"><use href="#pR" x="292" y="1933.7"/></g><g id="k37-6"><use href="#pR" x="344" y="1933.7"/></g><g id="k37-7"><use href="#pR" x="396" y="1933.7"/></g><g id="k37-8"><use href="#pR" x="448" y="1933.7"/></g><g id="k37-9"><use href="#pR" x="500" y="1933.7"/></g>
</g>
<text class="wm" x="292.5" y="1029">BRACELETBOOK.COM</text>
</svg>
